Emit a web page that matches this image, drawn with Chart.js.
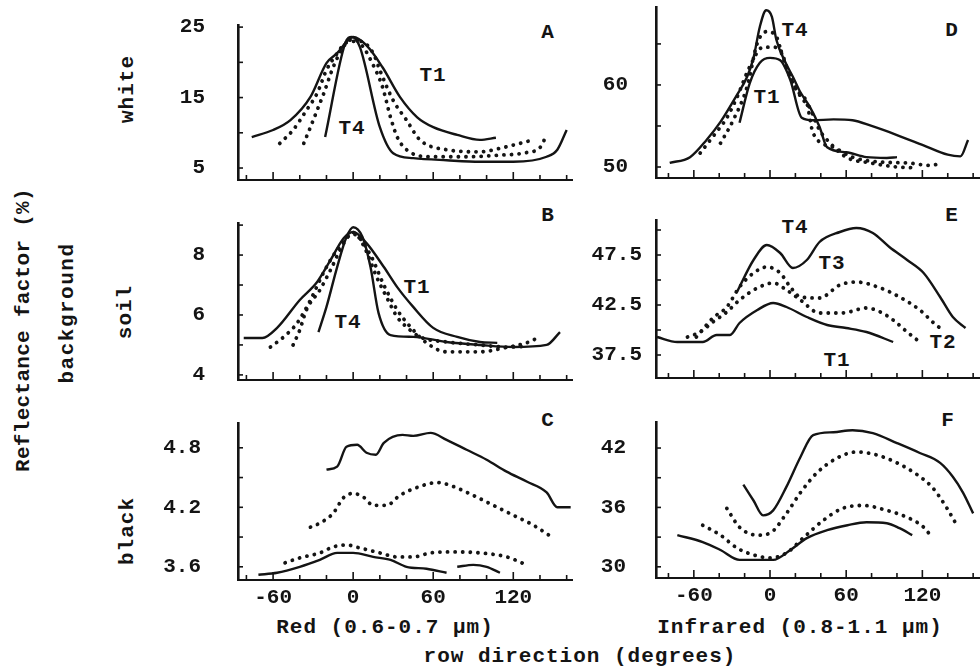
<!DOCTYPE html>
<html><head><meta charset="utf-8">
<script src="https://cdn.jsdelivr.net/npm/chart.js@4.4.1/dist/chart.umd.min.js"></script>
<style>
html,body{margin:0;padding:0;background:#fff;width:980px;height:668px;overflow:hidden;position:relative;}
canvas{position:absolute;}
.t{position:absolute;font-family:"Liberation Mono","DejaVu Sans Mono",monospace;font-weight:bold;color:#141414;white-space:nowrap;transform:translate(-50%,-50%);font-size:21px;letter-spacing:1px;line-height:1;}
.v{transform:translate(-50%,-50%) rotate(-90deg);}
</style></head><body>
<div class="t v" style="left:23px;top:330px;letter-spacing:0.3px;">Reflectance factor (%)</div>
<div class="t v" style="left:67px;top:313px;letter-spacing:1.5px;">background</div>
<div class="t v" style="left:127px;top:89px;">white</div>
<div class="t v" style="left:125px;top:312px;">soil</div>
<div class="t v" style="left:127px;top:531px;">black</div>

<div class="t" style="left:548px;top:32px;">A</div>
<div class="t" style="left:433px;top:75px;">T1</div>
<div class="t" style="left:352px;top:128px;">T4</div>
<div class="t" style="left:548px;top:215px;">B</div>
<div class="t" style="left:417px;top:287px;">T1</div>
<div class="t" style="left:348px;top:322px;">T4</div>
<div class="t" style="left:548px;top:420px;">C</div>
<div class="t" style="left:952px;top:30px;">D</div>
<div class="t" style="left:795px;top:30px;">T4</div>
<div class="t" style="left:767px;top:97px;">T1</div>
<div class="t" style="left:952px;top:215px;">E</div>
<div class="t" style="left:795px;top:227px;">T4</div>
<div class="t" style="left:832px;top:263px;">T3</div>
<div class="t" style="left:943px;top:342px;">T2</div>
<div class="t" style="left:837px;top:360px;">T1</div>
<div class="t" style="left:948px;top:420px;">F</div>

<div class="t" style="left:385px;top:627px;">Red (0.6-0.7 µm)</div>
<div class="t" style="left:800px;top:627px;">Infrared (0.8-1.1 µm)</div>
<div class="t" style="left:580px;top:656px;">row direction (degrees)</div>

<script>
// ---- data: [row direction (deg), reflectance factor (%)] ----
const aT1 = [[-76,9.4],[-60,10.4],[-47,11.8],[-32,15.1],[-20,19.9],[-12,21.3],[-5,22.9],[0,23.6],[10,22.4],[22,19.3],[35,15.1],[48,12.2],[60,10.8],[78,9.7],[95,9.0],[107,9.3]];
const aT2 = [[-55,8.5],[-45,10.4],[-35,13.2],[-27,15.6],[-20,18.9],[-13,21.0],[-5,22.8],[5,23.0],[15,21.3],[20,18.9],[30,14.6],[40,11.8],[50,9.0],[70,7.6],[95,7.3],[110,7.8],[125,8.5],[135,9.0]];
const aT3 = [[-37,8.5],[-32,10.8],[-27,13.2],[-22,15.6],[-15,19.3],[-7,22.3],[0,23.3],[7,22.3],[14,20.0],[22,16.5],[28,12.2],[33,9.4],[40,7.6],[58,6.6],[83,6.6],[108,6.8],[130,7.2],[140,7.9],[145,9.7]];
const aT4 = [[-21,9.4],[-6,22.7],[-1,23.6],[5,22.2],[20,10.8],[30,7.1],[45,6.4],[70,6.1],[95,5.9],[120,5.9],[145,6.6],[153,7.6],[160,10.4]];

const bT1 = [[-82,5.23],[-68,5.23],[-57,5.57],[-40,6.5],[-27,7.1],[-17,7.83],[-7,8.57],[0,8.77],[10,8.4],[23,7.6],[33,6.93],[45,6.27],[60,5.57],[78,5.27],[95,5.1],[108,5.07]];
const bT2 = [[-62,4.93],[-52,5.27],[-42,5.73],[-32,6.5],[-22,7.43],[-12,8.17],[0,8.7],[13,8.0],[23,7.0],[33,6.17],[43,5.6],[55,5.07],[70,4.77],[95,4.77],[113,4.9],[130,5.07],[138,5.23]];
const bT3 = [[-45,5.0],[-40,5.5],[-35,6.17],[-25,6.83],[-17,7.5],[-7,8.4],[0,8.75],[8,8.3],[18,7.23],[25,6.6],[33,5.93],[40,5.6],[50,5.27],[70,5.1],[95,5.0],[115,4.93],[130,4.95]];
const bT4 = [[-26,5.43],[-20,6.27],[-12,7.6],[-5,8.6],[0,8.93],[7,8.6],[13,7.6],[19,6.07],[28,5.33],[45,5.27],[70,5.1],[95,5.0],[120,4.93],[145,5.0],[155,5.43]];

const cT4 = [[-20,4.58],[-12,4.61],[-5,4.81],[3,4.83],[10,4.75],[17,4.73],[23,4.85],[37,4.93],[45,4.92],[58,4.95],[70,4.88],[85,4.78],[100,4.68],[115,4.56],[130,4.46],[145,4.35],[153,4.2],[163,4.2]];
const cT3 = [[-32,4.0],[-25,4.04],[-15,4.14],[-7,4.3],[0,4.34],[8,4.3],[15,4.22],[25,4.22],[35,4.32],[50,4.41],[63,4.45],[75,4.41],[90,4.32],[105,4.22],[120,4.12],[135,4.02],[150,3.89]];
const cT2 = [[-51,3.64],[-40,3.69],[-25,3.74],[-15,3.8],[-5,3.82],[5,3.79],[20,3.74],[33,3.7],[45,3.7],[58,3.74],[75,3.75],[95,3.74],[115,3.7],[130,3.62]];
const cT1 = [[-71,3.52],[-57,3.54],[-40,3.6],[-25,3.67],[-12,3.74],[0,3.74],[15,3.7],[28,3.67],[40,3.6],[55,3.58],[70,3.54],[74,null],[78,3.6],[90,3.62],[100,3.6],[110,3.54]];

const dT1 = [[-24,55.4],[-16,60.2],[-8,62.7],[0,63.3],[8,63.0],[16,60.6],[25,56.0],[34,55.7],[50,55.8],[65,55.7],[80,55.0],[100,53.9],[120,52.7],[140,51.5],[150,51.3],[156,53.3]];
const dT2 = [[-55,51.7],[-45,53.7],[-34,56.0],[-26,58.5],[-16,62.2],[-5.5,64.6],[2.5,64.6],[8,64.3],[14,61.8],[21,59.4],[29,57.8],[34,54.1],[50,52.4],[65,51.2],[87,50.6],[108,50.5],[126,50.2],[136,50.5]];
const dT3 = [[-39,52.9],[-29,55.7],[-18,59.8],[-10,65.1],[-2.5,66.5],[5,65.9],[10,63.4],[18,60.2],[26,58.2],[31,57.3],[39,54.5],[45,53.3],[60,51.2],[79,50.5],[100,50.0],[113,49.9]];
const dT4 = [[-79,50.5],[-63,51.2],[-50,53.3],[-39,55.5],[-26,58.8],[-18,61.0],[-13,63.3],[-8,67.1],[-3,69.1],[1.5,68.3],[5,65.5],[12,62.8],[18,61.0],[23.6,59.2],[31.5,57.3],[39,54.9],[45,52.4],[60,51.8],[76,51.2],[92,51.1],[100,51.2]];

const eT1 = [[-89,39.3],[-73,38.8],[-53,38.8],[-42,39.5],[-31.5,39.5],[-24,40.7],[-10,42.0],[2.5,42.7],[13,42.3],[29,41.3],[45,40.5],[60,40.2],[76,39.8],[97,38.8]];
const eT2 = [[-65,39.3],[-55,39.8],[-45,40.8],[-34,41.8],[-24,43.0],[-10,44.2],[2.5,44.7],[13,44.0],[24,43.0],[39,41.7],[57,41.7],[76,42.2],[87,41.8],[97,41.0],[108,39.8],[118,38.8]];
const eT3 = [[-58,39.3],[-45,41.2],[-34,42.3],[-24,44.3],[-13,45.7],[-2.5,46.3],[8,45.7],[16,44.3],[24,43.3],[39,43.2],[55,44.5],[68,44.8],[87,44.2],[102,43.3],[118,42.0],[129,40.7],[136,40.0]];
const eT4 = [[-26,43.8],[-13,47.0],[-2.5,48.5],[8,47.7],[18,46.2],[29,47.0],[39,48.8],[55,49.8],[68,50.2],[81,49.7],[94,48.3],[108,47.0],[121,45.7],[134,43.3],[144,41.3],[154,40.2]];

const fT1 = [[-73,33.2],[-53,32.5],[-39,31.7],[-24,30.7],[-10,30.7],[2.5,30.7],[16,31.7],[29,32.9],[45,33.7],[61,34.2],[76,34.5],[92,34.4],[102,33.9],[112,33.2]];
const fT2 = [[-53,34.2],[-39,33.2],[-26,31.9],[-13,31.2],[0,30.9],[13,31.4],[26,32.9],[42,34.7],[57,35.9],[73,36.2],[92,35.7],[108,35.0],[121,34.0],[128,32.9]];
const fT3 = [[-34,35.9],[-24,34.0],[-10,33.2],[0,33.4],[13,35.4],[24,37.5],[37,39.5],[53,41.0],[68,41.6],[84,41.3],[100,40.5],[116,39.3],[128,38.0],[139,36.0],[148,34.0]];
const fT4 = [[-21,38.3],[-13,36.7],[-5.5,35.2],[2.5,35.7],[13,38.1],[24,41.1],[34,43.3],[50,43.6],[65,43.8],[81,43.5],[100,42.5],[118,41.5],[134,40.5],[144,39.1],[152,37.5],[160,35.4]];

// ---- tick values and labels ----
const xTickMarks = [-80,-60,-40,-20,0,20,40,60,80,100,120,140,160];
const xTickLabels = [-60,0,60,120];
const yTicksA = [5,10,15,20,25],   yLabelsA = [5,15,25];
const yTicksB = [4,5,6,7,8,9],     yLabelsB = [4,6,8];
const yTicksC = [3.6,3.9,4.2,4.5,4.8], yLabelsC = [3.6,4.2,4.8];
const yTicksD = [50,55,60,65],     yLabelsD = [50,60];
const yTicksE = [37.5,40,42.5,45,47.5,50], yLabelsE = [37.5,42.5,47.5];
const yTicksF = [30,33,36,39,42],  yLabelsF = [30,36,42];

// ---- layout ----
const panels = [
  {box:[238,25,572,180],  xr:[-86.3,164], yr:[3.3,25.3],   yt:yTicksA, yl:yLabelsA, pad:33, xlab:false, s:[[aT1,'solid'],[aT2,'dot'],[aT3,'dot'],[aT4,'solid']]},
  {box:[238,223,572,380], xr:[-86.3,164], yr:[3.83,9.07],  yt:yTicksB, yl:yLabelsB, pad:33, xlab:false, s:[[bT1,'solid'],[bT2,'dot'],[bT3,'dot'],[bT4,'solid']]},
  {box:[238,423,572,580], xr:[-86.3,164], yr:[3.467,5.05], yt:yTicksC, yl:yLabelsC, pad:37, xlab:true,  s:[[cT1,'solid'],[cT2,'dot'],[cT3,'dot'],[cT4,'solid']]},
  {box:[656,7,980,178],   xr:[-89.8,165.4], yr:[48.66,69.5], yt:yTicksD, yl:yLabelsD, pad:28, xlab:false, s:[[dT1,'solid'],[dT2,'dot'],[dT3,'dot'],[dT4,'solid']]},
  {box:[656,220,980,378], xr:[-89.8,165.4], yr:[35.2,51.0],  yt:yTicksE, yl:yLabelsE, pad:14, xlab:false, s:[[eT1,'solid'],[eT2,'dot'],[eT3,'dot'],[eT4,'solid']]},
  {box:[656,422,980,578], xr:[-89.8,165.4], yr:[28.87,44.63], yt:yTicksF, yl:yLabelsF, pad:30, xlab:true, s:[[fT1,'solid'],[fT2,'dot'],[fT3,'dot'],[fT4,'solid']]}
];

const INK = '#141414';
Chart.defaults.font.family = '"Liberation Mono", "DejaVu Sans Mono", monospace';
Chart.defaults.font.weight = 'bold';
Chart.defaults.font.size = 21;
Chart.defaults.color = INK;

const inwardTicks = {
  id: 'inwardTicks',
  afterDatasetsDraw(chart) {
    const {ctx, chartArea: a, scales: {x, y}} = chart;
    ctx.save();
    ctx.strokeStyle = INK;
    ctx.lineWidth = 1.6;
    x.ticks.forEach(t => {
      const px = x.getPixelForValue(t.value);
      const len = (t.value % 60 === 0) ? 8 : 5;
      ctx.beginPath(); ctx.moveTo(px, a.bottom); ctx.lineTo(px, a.bottom - len); ctx.stroke();
    });
    y.ticks.forEach(t => {
      const py = y.getPixelForValue(t.value);
      ctx.beginPath(); ctx.moveTo(a.left, py); ctx.lineTo(a.left + 5, py); ctx.stroke();
    });
    ctx.restore();
  }
};

const LEFT = 120, TOP = 16, RIGHT = 4, BOTTOM = 40;

function styleFor(kind) {
  return kind === 'solid'
    ? {borderWidth: 2.4, borderDash: []}
    : {borderWidth: 3.8, borderDash: [0.1, 7.5], borderCapStyle: 'round'};
}

panels.forEach(p => {
  const [l, t, r, b] = p.box;
  const cv = document.createElement('canvas');
  const W = (r - l) + LEFT + RIGHT, H = (b - t) + TOP + BOTTOM;
  cv.width = W; cv.height = H;
  cv.style.left = (l - LEFT) + 'px'; cv.style.top = (t - TOP) + 'px';
  cv.style.width = W + 'px'; cv.style.height = H + 'px';
  document.body.appendChild(cv);

  new Chart(cv, {
    type: 'line',
    data: {
      datasets: p.s.map(([arr, kind]) => Object.assign({
        data: arr.map(([xv, yv]) => ({x: xv, y: yv})),
        borderColor: INK,
        pointRadius: 0,
        fill: false,
        cubicInterpolationMode: 'monotone',
        spanGaps: false
      }, styleFor(kind)))
    },
    options: {
      responsive: false,
      animation: false,
      devicePixelRatio: 1,
      layout: {padding: {top: TOP, right: RIGHT, left: 0, bottom: 0}},
      plugins: {legend: {display: false}, tooltip: {enabled: false}},
      scales: {
        x: {
          type: 'linear', min: p.xr[0], max: p.xr[1],
          afterBuildTicks: s => { s.ticks = xTickMarks.map(v => ({value: v})); },
          afterFit: s => { s.height = BOTTOM; },
          grid: {display: true, drawOnChartArea: false, drawTicks: true, tickLength: 5, color: 'rgba(0,0,0,0)'},
          border: {display: true, color: INK, width: 2},
          ticks: {
            display: p.xlab, autoSkip: false, maxRotation: 0, padding: 0,
            callback: v => xTickLabels.includes(v) ? String(v) : ''
          }
        },
        y: {
          type: 'linear', min: p.yr[0], max: p.yr[1],
          afterBuildTicks: s => { s.ticks = p.yt.map(v => ({value: v})); },
          afterFit: s => { s.width = LEFT; },
          grid: {display: true, drawOnChartArea: false, drawTicks: true, tickLength: p.pad, color: 'rgba(0,0,0,0)'},
          border: {display: true, color: INK, width: 2.6},
          ticks: {
            autoSkip: false, padding: 0,
            callback: v => p.yl.includes(v) ? String(v) : ''
          }
        }
      }
    },
    plugins: [inwardTicks]
  });
});
</script>
</body></html>
